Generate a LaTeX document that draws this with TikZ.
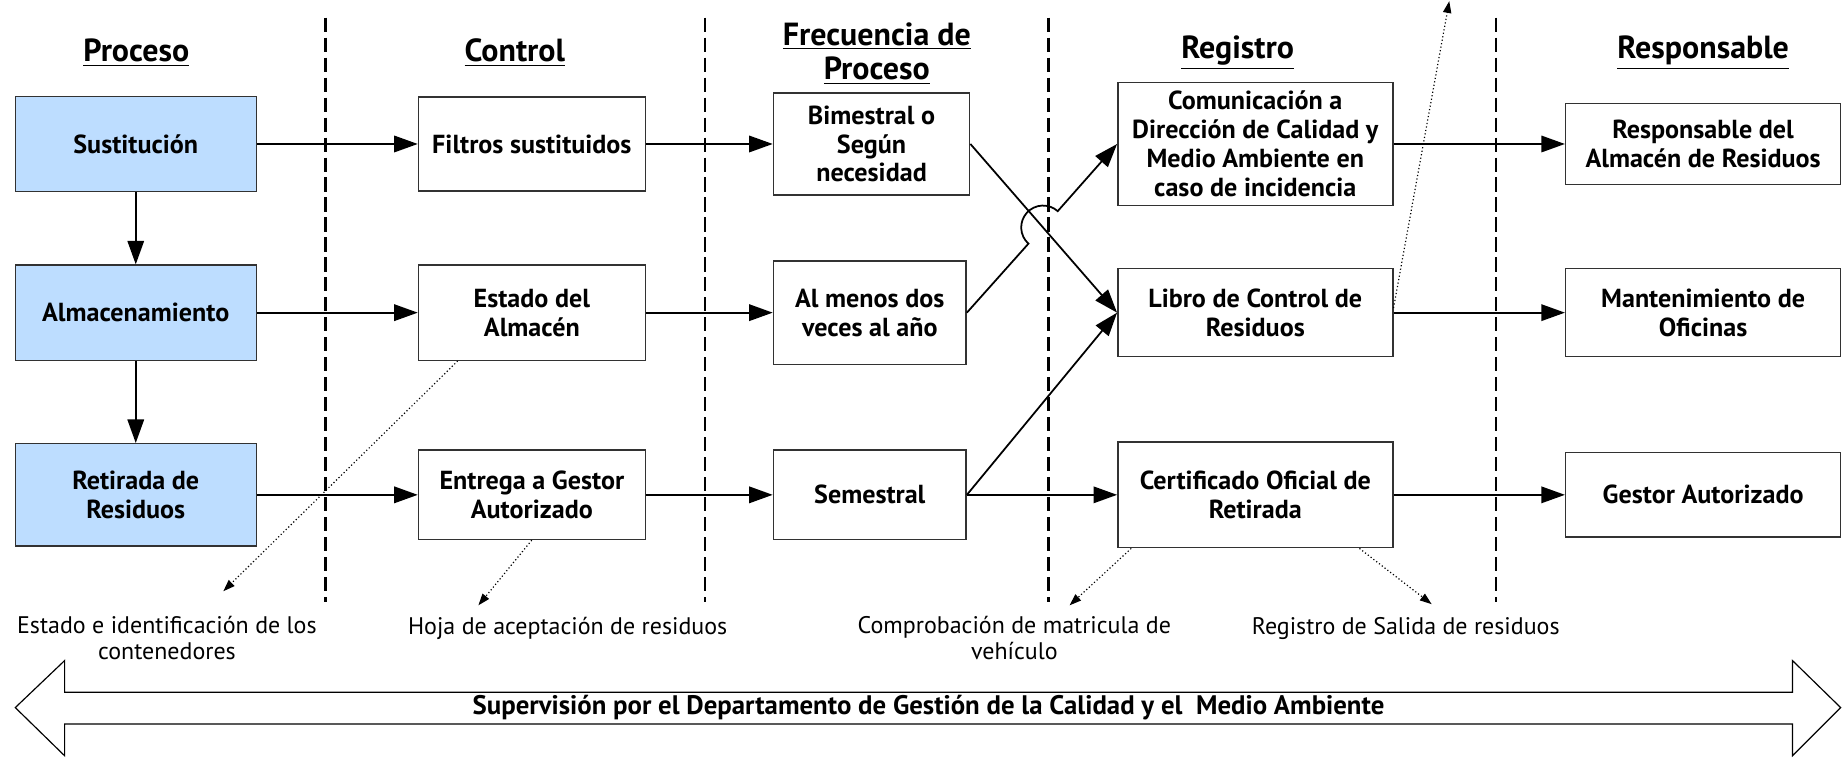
\documentclass[tikz,border=0pt]{standalone}
\usepackage{fontspec}
\setmainfont{PT Sans}
\usetikzlibrary{arrows.meta,calc}
\definecolor{procblue}{RGB}{189,221,255}
\definecolor{boxline}{RGB}{50,50,50}
\begin{document}
\begin{tikzpicture}[x=0.5pt,y=0.5pt,
  box/.style={draw=boxline, line width=0.6pt, align=center, inner sep=0pt, font=\bfseries\fontsize{11.1}{12.3}\selectfont},
  pbox/.style={box, fill=procblue},
  hdr/.style={align=center, font=\bfseries\fontsize{13.6}{14.5}\selectfont},
  lbl/.style={align=center, font=\fontsize{10.2}{11}\selectfont},
  arr/.style={line width=0.75pt, -{Triangle[length=10pt,width=7pt]}},
  dotarr/.style={line width=0.5pt, densely dotted, -{Triangle[length=5pt,width=3.5pt]}},
  sepline/.style={line width=1pt, dash pattern=on 6pt off 2.5pt},
  bigarrow/.style={draw=black, line width=0.5pt},
]
\useasboundingbox (0,0) rectangle (1568,-648);

% headers
\node[hdr] (h1) at (116,-45) {\underline{Proceso}};
\node[hdr] (h2) at (438,-45) {\underline{Control}};
\node[hdr] (h3) at (746,-45.5) {\underline{Frecuencia de}\\\underline{Proceso}};
\node[hdr] (h4) at (1053,-45) {\underline{Registro}};
\node[hdr] (h5) at (1449,-45) {\underline{Responsable}};

% separators
\foreach \sx in {277,600,892,1273} \draw[sepline] (\sx,-15) -- (\sx,-512);

% column 1
\node[pbox, minimum width=102.5pt, minimum height=40.5pt] (sust) at (115.5,-122.5) {Sustitución};
\node[pbox, minimum width=102.5pt, minimum height=40.5pt] (alm) at (115.5,-266) {Almacenamiento};
\node[pbox, minimum width=102.5pt, minimum height=43.5pt] (ret) at (115.5,-421) {Retirada de\\Residuos};
% column 2
\node[box, minimum width=96.5pt, minimum height=40pt] (filt) at (452.5,-122.5) {Filtros sustituidos};
\node[box, minimum width=96.5pt, minimum height=40.5pt] (est) at (452.5,-266) {Estado del\\Almacén};
\node[box, minimum width=96.5pt, minimum height=38pt] (ent) at (452.5,-421) {Entrega a Gestor\\Autorizado};
% column 3
\node[box, minimum width=83.5pt, minimum height=43.5pt] (bim) at (741.5,-122.5) {Bimestral o\\Según\\necesidad};
\node[box, minimum width=82pt, minimum height=44pt] (alm2) at (740,-266) {Al menos dos\\veces al año};
\node[box, minimum width=82pt, minimum height=38pt] (sem) at (740,-421) {Semestral};
% column 4
\node[box, minimum width=117pt, minimum height=52.5pt] (com) at (1068,-122.5) {Comunicación a\\Dirección de Calidad y\\Medio Ambiente en\\caso de incidencia};
\node[box, minimum width=117pt, minimum height=37.5pt] (lib) at (1068,-266) {Libro de Control de\\Residuos};
\node[box, minimum width=117pt, minimum height=45pt] (cert) at (1068,-421) {Certificado Oficial de\\Retirada};
% column 5
\node[box, minimum width=117pt, minimum height=34.5pt] (resp) at (1449,-122.5) {Responsable del\\Almacén de Residuos};
\node[box, minimum width=117pt, minimum height=37.5pt] (mant) at (1449,-266) {Mantenimiento de\\Oficinas};
\node[box, minimum width=117pt, minimum height=36pt] (gest) at (1449,-421) {Gestor Autorizado};

% connectors
\draw[arr] (sust.south) -- (alm.north);
\draw[arr] (alm.south) -- (ret.north);
\draw[arr] (sust.east) -- (filt.west);
\draw[arr] (filt.east) -- (bim.west);
\draw[arr] (alm.east) -- (est.west);
\draw[arr] (est.east) -- (alm2.west);
\draw[arr] (ret.east) -- (ent.west);
\draw[arr] (ent.east) -- (sem.west);
\draw[arr] (bim.east) -- (lib.west);
\draw[arr] (sem.east) -- (lib.west);
\draw[arr] (sem.east) -- (cert.west);
\coordinate (X) at (intersection of bim.east--lib.west and alm2.east--com.west);
\draw[arr] (alm2.east) -- ($(X)!9.3pt!(alm2.east)$) arc[start angle=228, end angle=48, radius=9.3pt] -- (com.west);
\draw[arr] (com.east) -- (resp.west);
\draw[arr] (lib.east) -- (mant.west);
\draw[arr] (cert.east) -- (gest.west);

% dotted annotations
\coordinate (t1) at (1233,-1);
\draw[dotarr] ($(lib.east)+(0,4)$) -- (t1);
\coordinate (t2) at (190,-503);
\draw[dotarr] ($(est.south west)+(34,0)$) -- (t2);
\coordinate (t3) at (407,-515);
\draw[dotarr] ($(ent.south west)+(97,0)$) -- (t3);
\coordinate (t4) at (910,-515);
\draw[dotarr] ($(cert.south west)+(12,0)$) -- (t4);
\coordinate (t5) at (1218,-514);
\draw[dotarr] ($(cert.south east)+(-29,0)$) -- (t5);

\node[lbl] (l1) at (142,-543) {Estado e identificación de los\\contenedores};
\node[lbl] (l2) at (483,-535) {Hoja de aceptación de residuos};
\node[lbl] (l3) at (863,-543) {Comprobación de matricula de\\vehículo};
\node[lbl] (l4) at (1196,-535) {Registro de Salida de residuos};

% supervision double arrow
\draw[bigarrow] (13,-602) -- (55,-562) -- (55,-589) -- (1525,-589) -- (1525,-562) -- (1566,-602) -- (1525,-643) -- (1525,-616) -- (55,-616) -- (55,-643) -- cycle;
\node[font=\bfseries\fontsize{11.4}{12.4}\selectfont] (sup) at (790,-602) {Supervisión por el Departamento de Gestión de la Calidad y el~ Medio Ambiente};
\end{tikzpicture}
\end{document}
